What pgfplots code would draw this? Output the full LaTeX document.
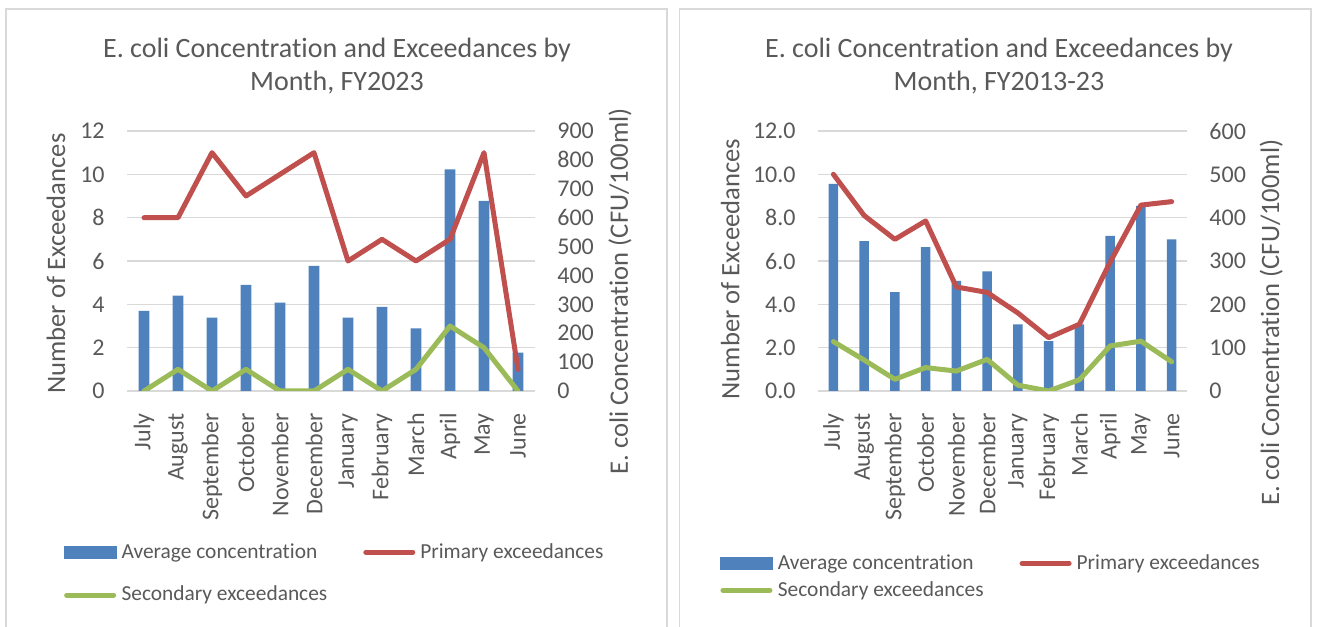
\documentclass[border=0pt]{standalone}
\usepackage{fontspec}
\setmainfont{Carlito}[Ligatures=NoCommon]
\usepackage{pgfplots}
\pgfplotsset{compat=1.18}

\definecolor{barblue}{HTML}{4F81BD}
\definecolor{linered}{HTML}{C0504D}
\definecolor{linegreen}{HTML}{9BBB59}
\definecolor{txt}{HTML}{595959}
\definecolor{gridgray}{HTML}{D9D9D9}

\pgfplotsset{
  base/.style={
    scale only axis, anchor=south west, height=130pt,
    xmin=-0.5, xmax=11.5, ymin=0, enlargelimits=false,
    axis line style={draw=none}, tick style={draw=none},
    /pgf/number format/assume math mode=true,
    tick label style={font=\fontsize{12}{14}\selectfont, text=txt},
    label style={font=\fontsize{13.3}{15}\selectfont, text=txt},
  },
  gridaxis/.style={
    base, ymax=12, ytick distance=2,
    ymajorgrids, grid style={gridgray, line width=0.75pt},
    xtick={0,...,11},
    xticklabels={July,August,September,October,November,December,January,February,March,April,May,June},
    xticklabel style={yshift=-11pt, rotate=90, anchor=east, inner sep=0pt},
    yticklabel style={anchor=east, inner sep=0pt, xshift=-11pt},
  },
  baraxis/.style={
    base, xtick=\empty, ytick distance=100,
    ytick pos=right, yticklabel pos=right,
    yticklabel style={anchor=west, inner sep=0pt, xshift=11pt},
  },
  lineaxis/.style={
    base, ymax=12, hide axis,
    legend columns=2, legend cell align=left,
    legend image code/.code={
      \path[draw=none, fill=none] (0pt,-3pt) rectangle (26pt,3pt);
      \draw[##1] (1.25pt,0pt) -- (24.75pt,0pt);},
    legend style={draw=none, fill=none, inner sep=0pt, anchor=north west,
      font=\fontsize{10.7}{12}\selectfont, text=txt,
      nodes={inner sep=0pt},
      /tikz/every odd column/.append style={column sep=2.5pt},
      /tikz/every even column/.append style={column sep=18pt}},
  },
  bars/.style={ybar, fill=barblue, draw=none},
  primary/.style={linered, line width=2.5pt, line cap=round, line join=round},
  secondary/.style={linegreen, line width=2.5pt, line cap=round, line join=round},
  barlegend/.style={legend image code/.code={\fill[barblue] (0pt,-3pt) rectangle (26pt,3pt);}},
}

\begin{document}
\begin{tikzpicture}
\path[use as bounding box] (0pt,0pt) rectangle (660pt,313pt);

% frames
\draw[gridgray, line width=0.6pt] (3pt,-2pt) -- (3pt,308.5pt) -- (333.5pt,308.5pt) -- (333.5pt,-2pt);
\draw[gridgray, line width=0.6pt] (339.75pt,-2pt) -- (339.75pt,308.5pt) -- (655.5pt,308.5pt) -- (655.5pt,-2pt);

% titles
\node[align=center, font=\fontsize{14}{16.5}\selectfont, text=txt] at (168.5pt,280pt)
  {E. coli Concentration and Exceedances by\\Month, FY2023};
\node[align=center, font=\fontsize{14}{16.5}\selectfont, text=txt] at (499.5pt,280pt)
  {E. coli Concentration and Exceedances by\\Month, FY2013-23};

% ---------- FY2023 ----------
\begin{axis}[gridaxis, at={(63.5pt,117.5pt)}, width=204pt,
  ylabel={Number of Exceedances},
  ylabel style={at={(axis description cs:-0.174,0.49)}, anchor=center}]
\end{axis}

\begin{axis}[baraxis, at={(63.5pt,117.5pt)}, width=204pt, ymax=900,
  ylabel={E. coli Concentration (CFU/100ml)},
  ylabel style={at={(axis description cs:1.208,0.383)}, anchor=center, rotate=0}]
\addplot[bars, bar width=5.35pt] coordinates {
  (0,277) (1,330) (2,254) (3,367) (4,306) (5,433)
  (6,254) (7,291) (8,217) (9,767) (10,658) (11,133)};
\end{axis}

\begin{axis}[lineaxis, at={(63.5pt,117.5pt)}, width=204pt,
  legend style={at={(axis description cs:-0.156,-0.584)},
    /tikz/row sep=12.5pt}]
\addlegendimage{barlegend}
\addplot[primary] coordinates {
  (0,8) (1,8) (2,11) (3,9) (4,10) (5,11)
  (6,6) (7,7) (8,6) (9,7) (10,11) (11,1)};
\addplot[secondary] coordinates {
  (0,0) (1,1) (2,0) (3,1) (4,0) (5,0)
  (6,1) (7,0) (8,1) (9,3) (10,2) (11,0)};
\legend{Average concentration, Primary exceedances, Secondary exceedances}
\end{axis}

% ---------- FY2013-23 ----------
\begin{axis}[gridaxis, at={(409pt,117.5pt)}, width=184.5pt,
  yticklabel style={/pgf/number format/.cd, fixed, fixed zerofill, precision=1},
  ylabel={Number of Exceedances},
  ylabel style={at={(axis description cs:-0.238,0.469)}, anchor=center}]
\end{axis}

\begin{axis}[baraxis, at={(409pt,117.5pt)}, width=184.5pt, ymax=600,
  ylabel={E. coli Concentration (CFU/100ml)},
  ylabel style={at={(axis description cs:1.228,0.263)}, anchor=center, rotate=0}]
\addplot[bars, bar width=4.65pt] coordinates {
  (0,478) (1,346) (2,228) (3,332) (4,254) (5,276)
  (6,154) (7,115) (8,154) (9,358) (10,427) (11,350)};
\end{axis}

\begin{axis}[lineaxis, at={(409pt,117.5pt)}, width=184.5pt,
  legend style={at={(axis description cs:-0.2665,-0.627)},
    /tikz/row sep=4.5pt}]
\addlegendimage{barlegend}
\addplot[primary] coordinates {
  (0,10.0) (1,8.1) (2,7.0) (3,7.85) (4,4.8) (5,4.55)
  (6,3.6) (7,2.46) (8,3.08) (9,5.95) (10,8.58) (11,8.74)};
\addplot[secondary] coordinates {
  (0,2.28) (1,1.43) (2,0.54) (3,1.08) (4,0.92) (5,1.46)
  (6,0.27) (7,0.0) (8,0.52) (9,2.08) (10,2.3) (11,1.35)};
\legend{Average concentration, Primary exceedances, Secondary exceedances}
\end{axis}

\end{tikzpicture}
\end{document}
